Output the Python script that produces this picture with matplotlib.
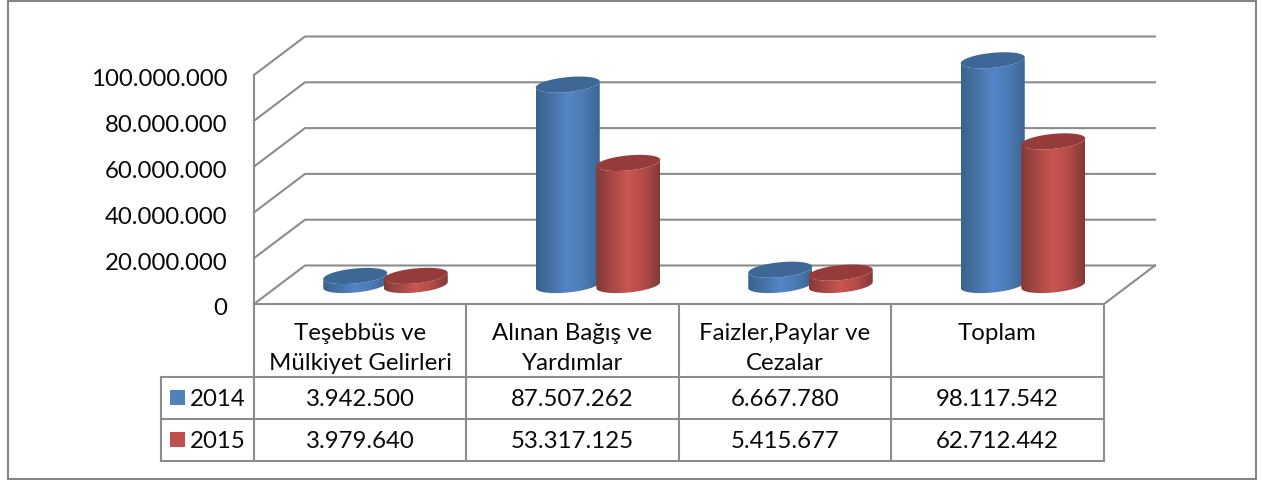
import numpy as np
import matplotlib
matplotlib.use("Agg")
import matplotlib.pyplot as plt
from matplotlib.colors import LinearSegmentedColormap
from matplotlib.patches import Polygon, Rectangle
from matplotlib.transforms import Affine2D

plt.rcParams['font.family'] = ['Lato', 'DejaVu Sans']

categories = ["Teşebbüs ve\nMülkiyet Gelirleri", "Alınan Bağış ve\nYardımlar", "Faizler,Paylar ve\nCezalar", "Toplam"]
years = ["2014", "2015"]
values_2014 = [3942500, 87507262, 6667780, 98117542]
values_2015 = [3979640, 53317125, 5415677, 62712442]
yticks = [0, 20000000, 40000000, 60000000, 80000000, 100000000]

W, H = 1261, 481
GRID = '#8c8c8c'
TEXT = '#0a0a0a'
FS = 17.3


def dotted(v):
    return f"{v:,}".replace(",", ".")


fig = plt.figure(figsize=(W / 100, H / 100), dpi=100, facecolor='white')

# pixel layer for the frame and the data table
bg = fig.add_axes([0, 0, 1, 1])
bg.set_xlim(0, W)
bg.set_ylim(H, 0)
bg.axis('off')
bg.add_patch(Rectangle((8, 1.5), 1248, 478, fill=False, ec='#868686', lw=1.5))

col_x = [254, 466, 679, 891, 1104]
row_y = [378, 420, 462]
for x in col_x:
    bg.plot([x, x], [305, 462], color=GRID, lw=1.5, solid_capstyle='butt')
bg.plot([161, 161], [378, 462], color=GRID, lw=1.5)
for y in row_y:
    bg.plot([161, 1104], [y, y], color=GRID, lw=1.5)

for i, cat in enumerate(categories):
    cx = (col_x[i] + col_x[i + 1]) / 2
    bg.text(cx, 334, cat.split("\n")[0], ha='center', va='center', fontsize=FS, color=TEXT)
    if "\n" in cat:
        bg.text(cx, 364, cat.split("\n")[1], ha='center', va='center', fontsize=FS, color=TEXT)
    bg.text(cx, 399.5, dotted(values_2014[i]), ha='center', va='center', fontsize=FS, color=TEXT)
    bg.text(cx, 441.5, dotted(values_2015[i]), ha='center', va='center', fontsize=FS, color=TEXT)

bg.add_patch(Rectangle((170, 391), 15, 15, fc='#4f81bd', ec='none'))
bg.add_patch(Rectangle((170, 433), 15, 15, fc='#c0504d', ec='none'))
bg.text(246, 399.5, years[0], ha='right', va='center', fontsize=FS, color=TEXT)
bg.text(246, 441.5, years[1], ha='right', va='center', fontsize=FS, color=TEXT)

# data axes: front plane of the 3d box
ax = fig.add_axes([254 / W, (H - 305) / H, 850 / W, 229 / H])
ax.patch.set_alpha(0)
px_x = 4 / 850
px_y = 100000000 / 229
depth_x = 51 * px_x
depth_y = 38.5 * px_y

for s in ['top', 'right', 'bottom']:
    ax.spines[s].set_visible(False)
ax.spines['left'].set_color(GRID)
ax.spines['left'].set_linewidth(1.5)
ax.set_xticks([])
ax.set_yticks(yticks)
ax.set_yticklabels([dotted(v) for v in yticks], fontsize=FS, color=TEXT)
ax.tick_params(axis='y', length=0, pad=19)
for lbl in ax.get_yticklabels():
    lbl.set_transform(lbl.get_transform() + Affine2D().translate(0, -2))

for v in yticks:
    ax.plot([0, depth_x, 4 + depth_x], [v, v + depth_y, v + depth_y], color=GRID, lw=1.5, clip_on=False, zorder=1)
ax.plot([0, 4, 4 + depth_x], [0, 0, depth_y], color=GRID, lw=1.5, clip_on=False, zorder=1)

blue_map = LinearSegmentedColormap.from_list('b', ['#38628f', '#4672a6', '#5585c8', '#4c7ab4', '#3c6593'])
red_map = LinearSegmentedColormap.from_list('r', ['#843836', '#a84845', '#cc5550', '#b24b48', '#843a38'])
A = 32 * px_x
B = 7.5 * px_y
TILT = 3 * px_y
shade = np.linspace(0, 1, 128).reshape(1, -1)


def cylinder(cx, base, top, cmap, cap, z):
    t = np.linspace(np.pi, 2 * np.pi, 61)
    x = cx + A * np.cos(t)
    low = base + B * np.sin(t) + TILT * np.cos(t)
    high = top + B * np.sin(t) + TILT * np.cos(t)
    side = Polygon(np.r_[np.c_[x, low], np.c_[x[::-1], high[::-1]]], transform=ax.transData, fc='none', ec='none')
    ax.add_patch(side)
    im = ax.imshow(shade, extent=[cx - A, cx + A, base - 2 * B, top + 2 * B], aspect='auto', cmap=cmap, zorder=z)
    im.set_clip_path(side)
    im.set_clip_box(fig.bbox)
    t = np.linspace(0, 2 * np.pi, 100)
    ax.fill(cx + A * np.cos(t), top + B * np.sin(t) + TILT * np.cos(t), color=cap, lw=0, clip_on=False, zorder=z + 0.5)


base_y = 19 * px_y
for i in range(4):
    center = i + 0.5 + 25 * px_x
    cylinder(center - 30 * px_x, base_y, base_y + values_2014[i], blue_map, '#3c6797', 3)
    cylinder(center + 30.5 * px_x, base_y, base_y + values_2015[i], red_map, '#953b39', 4)

ax.set_xlim(0, 4)
ax.set_ylim(0, 100000000)

fig.savefig('out.png', dpi=100)
